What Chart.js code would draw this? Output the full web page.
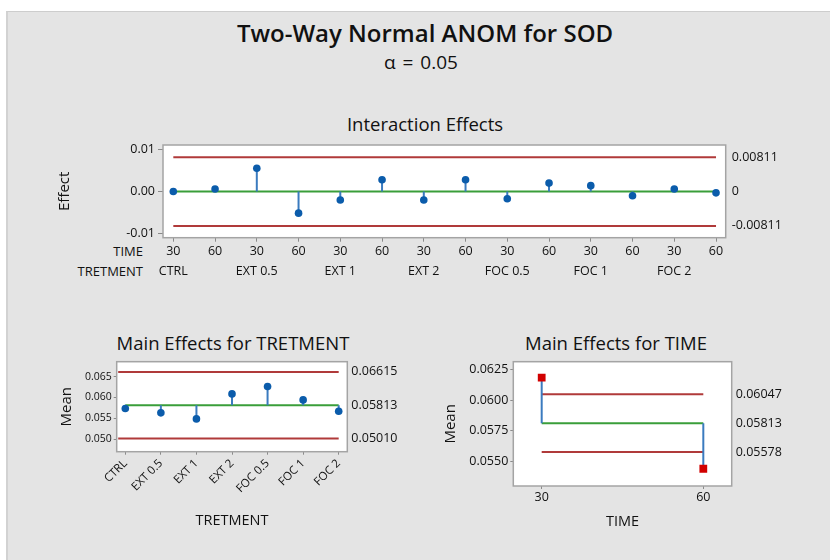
<!DOCTYPE html>
<html>
<head>
<meta charset="utf-8">
<script src="https://cdn.jsdelivr.net/npm/chart.js@4.4.1/dist/chart.umd.min.js"></script>
<style>
  html, body { margin:0; padding:0; background:#ffffff; width:830px; height:560px; overflow:hidden; }
  body { position:relative; font-family:'Open Sans', sans-serif; color:#111111; }
  #panel { position:absolute; left:6px; top:11px; width:824px; height:549px; background:#e4e4e4;
           border-top:1px solid #cdcdcd; border-left:2px solid #d2d2d2; box-sizing:border-box; }
  .t { position:absolute; white-space:nowrap; line-height:1; }
  canvas { position:absolute; }
</style>
</head>
<body>
<div id="panel"></div>
<div class="t" style="left:0;width:850px;text-align:center;top:21px;font-size:24px;font-weight:600;">Two-Way Normal ANOM for SOD</div>
<div class="t" style="left:0;width:842px;text-align:center;top:53px;font-size:19px;word-spacing:2px;">α = 0.05</div>
<div class="t" style="left:0;width:850px;text-align:center;top:115px;font-size:18.5px;">Interaction Effects</div>
<div class="t" style="left:0;width:466px;text-align:center;top:334px;font-size:18.5px;">Main Effects for TRETMENT</div>
<div class="t" style="left:416px;width:400px;text-align:center;top:334px;font-size:18.5px;">Main Effects for TIME</div>
<div class="t" style="left:0;width:143px;text-align:right;top:245px;font-size:13px;">TIME</div>
<div class="t" style="left:0;width:143px;text-align:right;top:265px;font-size:13px;">TRETMENT</div>

<canvas id="c1" width="780" height="160" style="left:40px;top:130px;"></canvas>
<canvas id="c2" width="400" height="200" style="left:20px;top:340px;"></canvas>
<canvas id="c3" width="390" height="200" style="left:430px;top:340px;"></canvas>

<script>
// ---------------- data ----------------
const timeLevels = ['30', '60'];
const treatments = ['CTRL', 'EXT 0.5', 'EXT 1', 'EXT 2', 'FOC 0.5', 'FOC 1', 'FOC 2'];
const interactionEffects = [0.0000, 0.0006, 0.0055, -0.0051, -0.0020, 0.0028, -0.0020,
                            0.0028, -0.0017, 0.0020, 0.0014, -0.0010, 0.0006, -0.0003];
const interactionLimits = [-0.00811, 0, 0.00811];
const interactionTicks = [-0.01, 0, 0.01];
const treatmentMeans = [0.05733, 0.05629, 0.05484, 0.06085, 0.06262, 0.05941, 0.05669];
const treatmentLimits = [0.05010, 0.05813, 0.06615];
const treatmentTicks = [0.050, 0.055, 0.060, 0.065];
const timeValues = [30, 60];
const timeMeans = [0.06182, 0.05443];
const timeLimits = [0.05578, 0.05813, 0.06047];
const timeTicks = [0.0550, 0.0575, 0.0600, 0.0625];

// ---------------- styles ----------------
const RED = '#b03a3a', GREEN = '#3a9e3a', STEM = '#3b7bbf', DOT = '#0b5cab', SQ = '#d10000';
const TXT = '#111111', TICKC = '#8a8a8a';
Chart.defaults.font.family = "'Open Sans', sans-serif";
Chart.defaults.color = TXT;

const framePlugin = {
  id: 'frame',
  beforeDraw(chart) {
    const a = chart.chartArea, ctx = chart.ctx;
    ctx.save(); ctx.fillStyle = '#ffffff';
    ctx.fillRect(a.left, a.top, a.right - a.left, a.bottom - a.top); ctx.restore();
  },
  beforeDatasetsDraw(chart) {
    const a = chart.chartArea, ctx = chart.ctx;
    ctx.save(); ctx.strokeStyle = '#a4a4a4'; ctx.lineWidth = 1.5;
    ctx.strokeRect(a.left, a.top, a.right - a.left, a.bottom - a.top); ctx.restore();
  }
};

function hline(y, x0, x1, color) {
  return { data: [{x: x0, y: y}, {x: x1, y: y}], borderColor: color, borderWidth: 2,
           pointRadius: 0, order: 3, clip: false };
}
function stems(xs, base, vals) {
  const d = [];
  xs.forEach((x, i) => { d.push({x: x, y: base}, {x: x, y: vals[i]}, {x: x, y: null}); });
  return { data: d, borderColor: STEM, borderWidth: 2, pointRadius: 0, spanGaps: false, order: 2 };
}
function points(xs, vals, color, style, r) {
  return { data: xs.map((x, i) => ({x: x, y: vals[i]})), showLine: false, pointStyle: style,
           pointRadius: r, pointBackgroundColor: color, pointBorderColor: color, pointBorderWidth: 0, order: 1 };
}
function fixed(w) { return (s) => { s.width = w; }; }
function fixedH(h) { return (s) => { s.height = h; }; }
function setTicks(arr) { return (s) => { s.ticks = arr.map(v => ({value: v})); }; }
const noGrid = { drawOnChartArea: false, drawTicks: false };

function baseOptions(pad) {
  return { responsive: false, animation: false, layout: { padding: { top: pad, left: 0, right: 0, bottom: 0 } },
           plugins: { legend: { display: false }, tooltip: { enabled: false } } };
}

// ---------------- chart 1: interaction effects ----------------
const idx = interactionEffects.map((_, i) => i);
const o1 = baseOptions(15);
o1.scales = {
  x: { type: 'linear', min: -0.247, max: 13.232, afterFit: fixedH(52.3), afterBuildTicks: setTicks(idx),
       grid: { drawOnChartArea: false, drawTicks: true, tickLength: 4, color: TICKC }, border: { display: false },
       ticks: { padding: 0, maxRotation: 0, autoSkip: false, font: { size: 12.5, lineHeight: '20px' },
                callback: (v) => [timeLevels[v % 2], v % 2 === 0 ? treatments[v / 2] : ''] } },
  y: { position: 'left', min: -0.0109, max: 0.0110, afterFit: fixed(123), afterBuildTicks: setTicks(interactionTicks),
       grid: { drawOnChartArea: false, drawTicks: true, tickLength: 5, color: TICKC }, border: { display: false },
       ticks: { padding: 3, font: { size: 12.5 }, callback: (v) => v.toFixed(2) },
       title: { display: true, text: 'Effect', font: { size: 15 }, padding: { top: 16, bottom: 0 } } },
  y2: { position: 'right', min: -0.0109, max: 0.0110, afterFit: fixed(94.3), afterBuildTicks: setTicks(interactionLimits),
        grid: noGrid, border: { display: false },
        ticks: { padding: 6, font: { size: 12.5 }, callback: (v) => v === 0 ? '0' : v.toFixed(5) } }
};
new Chart(document.getElementById('c1'), {
  type: 'line',
  data: { datasets: [
    hline(interactionLimits[2], 0, idx.length - 1, RED),
    hline(interactionLimits[0], 0, idx.length - 1, RED),
    hline(interactionLimits[1], 0, idx.length - 1, GREEN),
    stems(idx, interactionLimits[1], interactionEffects),
    points(idx, interactionEffects, DOT, 'circle', 3.8)
  ] },
  options: o1, plugins: [framePlugin]
});

// ---------------- chart 2: main effects TRETMENT ----------------
const tIdx = treatments.map((_, i) => i);
const o2 = baseOptions(21.7);
o2.scales = {
  x: { type: 'linear', min: -0.242, max: 6.242, afterFit: fixedH(88.3), afterBuildTicks: setTicks(tIdx),
       grid: { drawOnChartArea: false, drawTicks: true, tickLength: 3, color: TICKC }, border: { display: false },
       ticks: { padding: 2, minRotation: 45, maxRotation: 45, autoSkip: false, font: { size: 11.5 },
                callback: (v) => treatments[v] },
       title: { display: true, text: 'TRETMENT', font: { size: 14.5 }, padding: { top: 0, bottom: 10.5 } } },
  y: { position: 'left', min: 0.04695, max: 0.0686, afterFit: fixed(96.7), afterBuildTicks: setTicks(treatmentTicks),
       grid: { drawOnChartArea: false, drawTicks: true, tickLength: 3, color: TICKC }, border: { display: false },
       ticks: { padding: 2, font: { size: 10.5 }, callback: (v) => v.toFixed(3) },
       title: { display: true, text: 'Mean', font: { size: 15 }, padding: { top: 38, bottom: 0 } } },
  y2: { position: 'right', min: 0.04695, max: 0.0686, afterFit: fixed(72.7), afterBuildTicks: setTicks(treatmentLimits),
        grid: noGrid, border: { display: false },
        ticks: { padding: 4, font: { size: 12.5 }, callback: (v) => v.toFixed(5) } }
};
new Chart(document.getElementById('c2'), {
  type: 'line',
  data: { datasets: [
    hline(treatmentLimits[2], -0.2, tIdx.length - 1, RED),
    hline(treatmentLimits[0], -0.2, tIdx.length - 1, RED),
    hline(treatmentLimits[1], 0, tIdx.length - 1, GREEN),
    stems(tIdx, treatmentLimits[1], treatmentMeans),
    points(tIdx, treatmentMeans, DOT, 'circle', 3.8)
  ] },
  options: o2, plugins: [framePlugin]
});

// ---------------- chart 3: main effects TIME ----------------
const o3 = baseOptions(21.7);
o3.scales = {
  x: { type: 'linear', min: 24.73, max: 65.27, afterFit: fixedH(54), afterBuildTicks: setTicks(timeValues),
       grid: { drawOnChartArea: false, drawTicks: true, tickLength: 3, color: TICKC }, border: { display: false },
       ticks: { padding: 1, maxRotation: 0, autoSkip: false, font: { size: 12.5 }, callback: (v) => String(v) },
       title: { display: true, text: 'TIME', font: { size: 14.5 }, padding: { top: 0, bottom: 9 } } },
  y: { position: 'left', min: 0.05303, max: 0.06312, afterFit: fixed(83.3), afterBuildTicks: setTicks(timeTicks),
       grid: { drawOnChartArea: false, drawTicks: true, tickLength: 3, color: TICKC }, border: { display: false },
       ticks: { padding: 2, font: { size: 12.5 }, callback: (v) => v.toFixed(4) },
       title: { display: true, text: 'Mean', font: { size: 15 }, padding: { top: 12, bottom: 0 } } },
  y2: { position: 'right', min: 0.05303, max: 0.06312, afterFit: fixed(88.3), afterBuildTicks: setTicks(timeLimits),
        grid: noGrid, border: { display: false },
        ticks: { padding: 4, font: { size: 12.5 }, callback: (v) => v.toFixed(5) } }
};
new Chart(document.getElementById('c3'), {
  type: 'line',
  data: { datasets: [
    hline(timeLimits[2], timeValues[0], timeValues[1], RED),
    hline(timeLimits[0], timeValues[0], timeValues[1], RED),
    hline(timeLimits[1], timeValues[0], timeValues[1], GREEN),
    stems(timeValues, timeLimits[1], timeMeans),
    points(timeValues, timeMeans, SQ, 'rect', 5.5)
  ] },
  options: o3, plugins: [framePlugin]
});
</script>
</body>
</html>
